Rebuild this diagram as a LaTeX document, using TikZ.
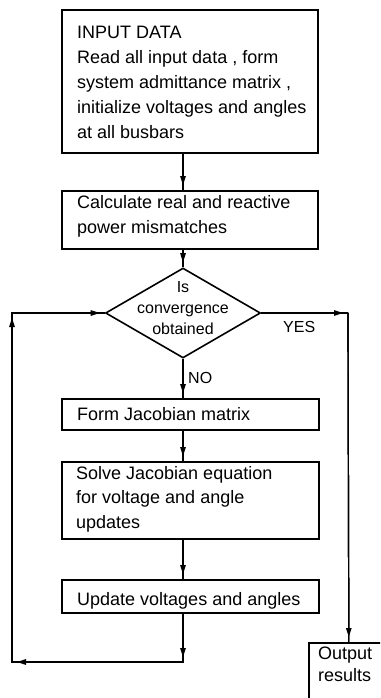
\documentclass[tikz,border=0pt]{standalone}
\usepackage{fontspec}
\setmainfont{Liberation Sans}
\usetikzlibrary{shapes.geometric,arrows.meta}
\begin{document}
\begin{tikzpicture}[x=1pt,y=-1pt,
  boxshape/.style={draw, line width=1.6pt, rectangle, inner sep=0pt, anchor=north west},
  boxtext/.style={inner sep=0pt, anchor=north west, align=left, font=\fontsize{18}{25}\selectfont},
  conn/.style={line width=1.2pt},
  arr/.style={conn, postaction={draw, line width=1.2pt, -{Triangle[length=9pt,width=5.5pt]}, shorten >=5pt}},
  lbl/.style={inner sep=0pt, anchor=base west, font=\fontsize{16}{20}\selectfont}
 ]
\useasboundingbox (0,0) rectangle (380,698);
\clip (0,0) rectangle (380,698);
% boxes
\node[boxshape, minimum width=256pt, minimum height=143pt] (b1) at (61,9) {};
\node[boxshape, minimum width=256pt, minimum height=58pt] (b2) at (61,190) {};
\node[diamond, draw, line width=1.6pt, minimum width=155pt, minimum height=90pt, inner sep=0pt] (dec) at (183,313) {};
\node[boxshape, minimum width=257pt, minimum height=31pt] (b3) at (61,398) {};
\node[boxshape, minimum width=257pt, minimum height=77pt] (b4) at (61,461) {};
\node[boxshape, minimum width=257pt, minimum height=33pt] (b5) at (61,579) {};
\node[boxshape, minimum width=80pt, minimum height=70pt] (out) at (308,642) {};
% texts
\node[boxtext] (t1) at (77,26) {INPUT DATA\\Read all input data , form\\system admittance matrix ,\\initialize voltages and angles\\at all busbars};
\node[boxtext] (t2) at (77,195) {Calculate real and reactive\\power mismatches};
\node[inner sep=0pt, anchor=north, align=center, font=\fontsize{16}{21}\selectfont] (tdec) at (183,281.5) {Is\\convergence\\obtained};
\node[boxtext] (t3) at (77,407) {Form Jacobian matrix};
\node[boxtext, font=\fontsize{18}{24.5}\selectfont] (t4) at (76,466) {Solve Jacobian equation\\for voltage and angle\\updates};
\node[boxtext] (t5) at (77,592) {Update voltages and angles};
\node[boxtext, font=\fontsize{18}{22}\selectfont] (tout) at (318,647) {Output\\results};
\node[lbl] (no) at (188,383) {NO};
\node[lbl] (yes) at (283,332) {YES};
% corner points
\coordinate (c1) at (183,662);
\coordinate (c2) at (12,662);
\coordinate (c3) at (12,313);
\coordinate (c4) at (348,313);
% main flow
\draw[arr] (b1.south -| dec.north) -- (b2.north -| dec.north);
\draw[arr] (b2.south -| dec.north) -- (dec.north);
\draw[arr] (dec.south) -- (b3.north -| dec.south);
\draw[arr] (b3.south -| dec.south) -- (b4.north -| dec.south);
\draw[arr] (b4.south -| dec.south) -- (b5.north -| dec.south);
% loop back
\draw[conn] (b5.south -| dec.south) -- (c1) -- (c2) -- (c3) -- (dec.west);
\draw[arr] (b5.south -| dec.south) -- (c1);
\draw[arr] (c1) -- (c2);
\draw[arr] (c2) -- (c3);
\draw[arr] (c3) -- (dec.west);
% yes branch
\draw[conn] (dec.east) -- (c4) -- (out.north);
\draw[arr] (dec.east) -- (c4);
\draw[arr] (c4) -- (out.north);
\end{tikzpicture}
\end{document}
